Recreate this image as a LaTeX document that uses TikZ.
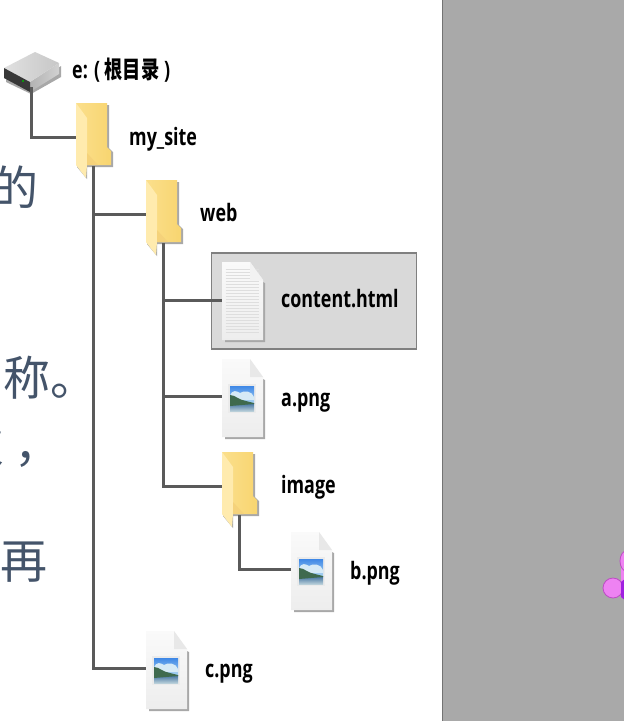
\documentclass[tikz,border=0pt]{standalone}
\usepackage{fontspec}
\setmainfont{Open Sans}
\newfontfamily\lblfont[FakeStretch=0.745]{Open Sans}
\newfontfamily\cjkfont{Noto Sans CJK SC}
\newfontfamily\cjklbl[FakeStretch=0.76]{Noto Sans CJK SC}
\usetikzlibrary{calc}
\definecolor{slate}{HTML}{44546A}
\definecolor{wirecol}{HTML}{5A5A5A}
\definecolor{panelgrey}{HTML}{A9A9A9}
\definecolor{folderbody}{HTML}{FBDF8C}
\definecolor{folderbodyR}{HTML}{F8D570}
\definecolor{folderflap}{HTML}{FFEBAE}
\definecolor{folderlow}{HTML}{F5D27A}
\definecolor{softshadow}{HTML}{A8A8A8}
\definecolor{skytop}{HTML}{3F88E6}
\definecolor{skylow}{HTML}{A9D3F2}
\definecolor{cloud}{HTML}{D6EAF6}
\definecolor{hill}{HTML}{3F6A4E}
\definecolor{watertop}{HTML}{3E6F9E}
\definecolor{waterlow}{HTML}{B9CFD9}
\definecolor{petal}{HTML}{EE82F2}
\definecolor{petaledge}{HTML}{BC4CC4}
\definecolor{petaldark}{HTML}{A020E0}
\tikzset{
  wire/.style={draw=wirecol,line width=3pt,line join=miter},
  lbl/.style={anchor=base west,inner sep=0pt,font=\lblfont\bfseries\fontsize{24}{24}\selectfont,text=black},
  bgtext/.style={anchor=base east,inner sep=0pt,font=\cjkfont\fontsize{47}{47}\selectfont,text=slate},
  holder/.style={inner sep=0pt,draw=none,anchor=north west},
  petalshape/.style={fill=petal,draw=petaledge,line width=0.8pt}
}
% folder: name, x, y of top-left corner
\newcommand{\folderIcon}[3]{%
  \begin{scope}[shift={(#2,#3)}]
    \fill[softshadow] (3,2) -- (33,2) -- (33,45) -- (37,49) -- (37,64) -- (11,64) -- (11,76) -- (1,64) -- cycle;
    \path[left color=folderbody,right color=folderbodyR] (0,0) -- (31,0) -- (31,44) -- (35,48) -- (35,62) -- (0,62) -- cycle;
    \fill[folderflap] (0,0) -- (11,15) -- (11,62) -- (10,75) -- (0,62) -- cycle;
    \fill[folderlow] (11,50) -- (11,62) -- (22,62) -- cycle;
    \node[holder,minimum width=35pt,minimum height=75pt] (#1) at (0,0) {};
    \coordinate (#1-in) at (0,34);
    \coordinate (#1-out) at (17,63);
  \end{scope}}
% blank page with folded corner
\newcommand{\pageShape}{%
  \fill[softshadow] (3,3) -- (43,21) -- (43,80) -- (3,80) -- cycle;
  \path[top color=white!98!black,bottom color=black!7] (0,0) -- (28,0) -- (41,18) -- (41,78) -- (0,78) -- cycle;
  \fill[black!9] (28,0) -- (41,18) -- (28,18) -- cycle;}
% image file
\newcommand{\imageIcon}[3]{%
  \begin{scope}[shift={(#2,#3)}]
    \pageShape
    \fill[black!8] (6,25) rectangle (34,54);
    \begin{scope}
      \clip (8,27) rectangle (32,52);
      \fill[top color=skytop,bottom color=skylow] (8,27) rectangle (32,44);
      \fill[cloud] (8,37) .. controls (10,30) and (15,32) .. (18,34) .. controls (22,31) and (30,32) .. (32,38) -- (32,41) -- (8,41) -- cycle;
      \fill[top color=watertop,bottom color=waterlow] (8,44) rectangle (32,52);
      \fill[hill] (8,36) .. controls (13,36) and (17,41) .. (24,42) -- (32,44) -- (32,45) -- (8,47) -- cycle;
    \end{scope}
    \node[holder,minimum width=41pt,minimum height=78pt] (#1) at (0,0) {};
    \coordinate (#1-in) at (0,37.5);
  \end{scope}}
% text document
\newcommand{\docIcon}[3]{%
  \begin{scope}[shift={(#2,#3)}]
    \pageShape
    \foreach \yy in {7,10,...,71} {\draw[black!13,line width=0.7pt] (3.5,\yy) -- (37,\yy);}
    \fill[black!5] (28,0) -- (41,18) -- (28,18) -- cycle;
    \node[holder,minimum width=41pt,minimum height=76pt] (#1) at (0,0) {};
    \coordinate (#1-in) at (0,38);
  \end{scope}}
\begin{document}
\begin{tikzpicture}[x=1pt,y=-1pt]
  \useasboundingbox (0,0) rectangle (624,721);
  \clip (0,0) rectangle (624,721);
  \fill[white] (0,0) rectangle (624,721);
  % right panel
  \fill[panelgrey] (443,0) rectangle (624,721);
  \draw[black!55,line width=1pt] (442.5,0) -- (442.5,721);
  % flower
  \fill[petal] (621,568) rectangle (626,582);
  \draw[petalshape] (627,561) ellipse (7 and 10.5);
  \draw[petalshape] (613,588) ellipse (10 and 10);
  \fill[petaldark] (621,582) -- (626,578) -- (626,601) -- (621,597) -- cycle;
  % background slide text, cut off by the panel edge
  \node[bgtext] (wordA) at (39,205) {的};
  \node[bgtext] (wordB) at (98,395) {名称。};
  \node[bgtext] (wordC) at (62,462) {次\kern10pt，};
  \node[bgtext] (wordD) at (48,578) {再};
  % highlight
  \node[draw=black!50,line width=1.5pt,fill=black!15,minimum width=205pt,minimum height=96pt,inner sep=0pt,anchor=north west] (hilite) at (210.7,252) {};
  % drive
  \fill[softshadow] (6,70) -- (31,86) -- (61,66) -- (61,77) -- (31,94) -- (6,82) -- cycle;
  \path[left color=black!30,right color=black!18] (30,82) -- (59,63) -- (59,74) -- (30,92) -- cycle;
  \path[left color=black!12,right color=black!22] (4,68) -- (35,52) -- (59,63) -- (30,82) -- cycle;
  \fill[black!78] (4,68) -- (30,82) -- (30,92) -- (4,78) -- cycle;
  \fill[green!70!black] (23,81) circle (1.2);
  \node[inner sep=0pt,minimum width=56pt,minimum height=40pt,anchor=north west] (drive) at (4,52) {};
  \coordinate (drive-out) at (31,87);
  % icons
  \folderIcon{site}{76}{103}
  \folderIcon{web}{146}{180}
  \folderIcon{img}{222}{452}
  \docIcon{content}{222}{262}
  \imageIcon{apng}{222}{359}
  \imageIcon{bpng}{291}{532}
  \imageIcon{cpng}{146}{631}
  % connectors
  \draw[wire] (drive-out) |- (site-in);
  \draw[wire] (site-out) |- (cpng-in);
  \draw[wire] (site-out |- web-in) -- (web-in);
  \draw[wire] (web-out) |- (img-in);
  \draw[wire] (web-out |- content-in) -- (content-in);
  \draw[wire] (web-out |- apng-in) -- (apng-in);
  \draw[wire] (img-out) |- (bpng-in);
  % labels
  \node[lbl] (tDrive) at (72,78.5) {e: ( {\cjklbl 根目录} )};
  \node[lbl] (tSite) at (129,145.5) {my\_site};
  \node[lbl] (tWeb) at (200,221.5) {web};
  \node[lbl] (tContent) at (281,307.5) {content.html};
  \node[lbl] (tA) at (281,406.5) {a.png};
  \node[lbl] (tImage) at (281,493.5) {image};
  \node[lbl] (tB) at (350,579.5) {b.png};
  \node[lbl] (tC) at (205,677.5) {c.png};
\end{tikzpicture}
\end{document}
